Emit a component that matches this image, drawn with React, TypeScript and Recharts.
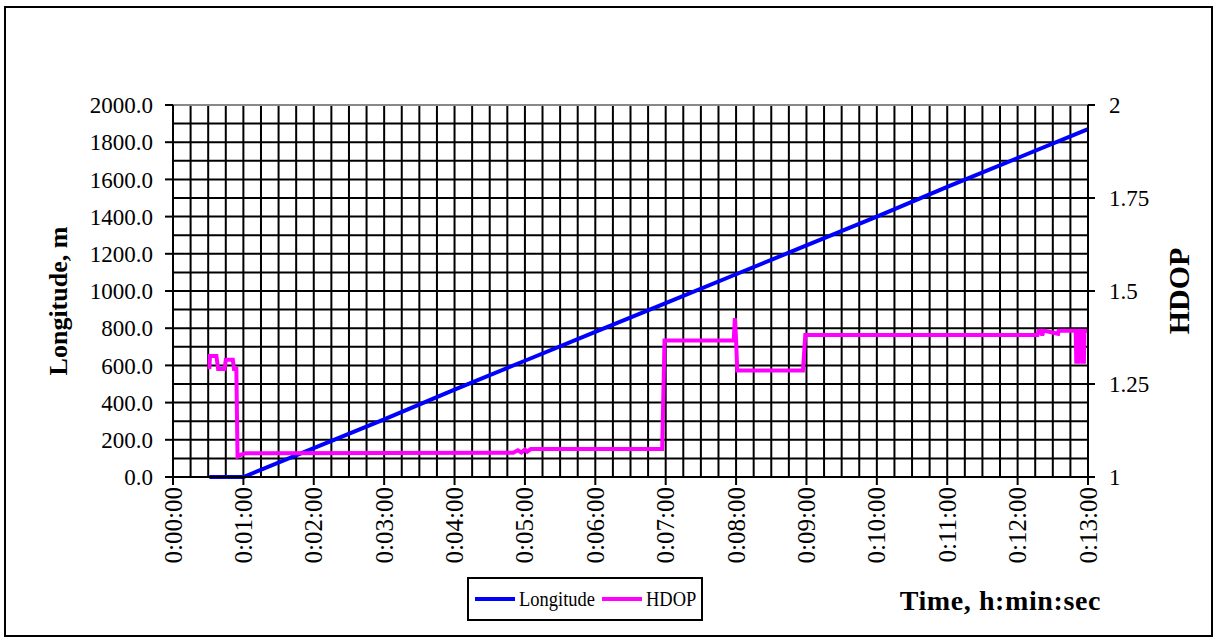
import { LineChart, Line, XAxis, YAxis, CartesianGrid, Legend, Label, ReferenceLine } from "recharts";

// time in seconds from start
const lonTime = [31, 60, 120, 180, 240, 300, 360, 420, 480, 540, 600, 660, 720, 780];
const lonValue = [0, 0, 155, 310, 470, 625, 780, 935, 1090, 1245, 1400, 1560, 1715, 1870];

const hdopTime = [
  31, 31.5, 37, 38.5, 44, 45, 51, 52, 54, 55, 58, 62,
  290, 294, 297, 300, 302, 305,
  417, 419, 478, 479, 480, 481,
  537, 539, 737, 738, 740, 741, 742, 743, 754.5, 755, 756,
  769.5, 770, 771.5, 772, 774.5, 775, 776.5, 777, 780,
];
const hdopValue = [
  1.29, 1.325, 1.325, 1.29, 1.29, 1.315, 1.315, 1.29, 1.29, 1.055, 1.06, 1.064,
  1.065, 1.072, 1.066, 1.074, 1.068, 1.075,
  1.075, 1.367, 1.367, 1.427, 1.367, 1.286,
  1.286, 1.382, 1.382, 1.393, 1.393, 1.38, 1.393, 1.393, 1.385, 1.393, 1.393,
  1.393, 1.31, 1.31, 1.393, 1.393, 1.31, 1.31, 1.393, 1.393,
];

const seriesNames = ["Longitude", "HDOP"];
const timeTicks = [0, 60, 120, 180, 240, 300, 360, 420, 480, 540, 600, 660, 720, 780];
const lonTicks = [0, 200, 400, 600, 800, 1000, 1200, 1400, 1600, 1800, 2000];
const hdopTicks = [1, 1.25, 1.5, 1.75, 2];

const timeDomain = [0, 780];
const lonDomain = [0, 2000];

// minor grid: every 15 s and every 100 m
const gridX = Array.from({ length: 53 }, (_, i) => i * 15);
const gridY = Array.from({ length: 20 }, (_, i) => i * 100);

const lonData = lonTime.map((t, i) => ({ t, lon: lonValue[i] }));
const hdopData = hdopTime.map((t, i) => ({ t, hdop: hdopValue[i] }));

const serif = "'Liberation Serif', 'Times New Roman', serif";

// legend label boxes (text is drawn a little condensed, like the original)
const legendTextWidth: Record<string, number> = { Longitude: 74, HDOP: 50 };

const fmtTime = (s: number) => {
  const m = Math.floor(s / 60);
  const sec = s % 60;
  return `0:${String(m).padStart(2, "0")}:${String(sec).padStart(2, "0")}`;
};

const gridXCoords = ({ xAxis, offset }: any) => {
  if (xAxis && typeof xAxis.scale === "function") return gridX.map((v) => xAxis.scale(v));
  return gridX.map((v) => offset.left + (offset.width * (v - timeDomain[0])) / (timeDomain[1] - timeDomain[0]));
};

const gridYCoords = ({ yAxis, offset }: any) => {
  if (yAxis && typeof yAxis.scale === "function") return gridY.map((v) => yAxis.scale(v));
  return gridY.map((v) => offset.top + offset.height * (1 - (v - lonDomain[0]) / (lonDomain[1] - lonDomain[0])));
};

const TimeTick = ({ x, y, payload }: any) => (
  <text
    x={x}
    y={y}
    transform={`rotate(-90 ${x} ${y})`}
    textAnchor="end"
    dominantBaseline="central"
    fontFamily={serif}
    fontSize={25}
    fill="#000"
  >
    {fmtTime(payload.value)}
  </text>
);

const LegendBox = ({ payload }: any) => {
  const items = [...(payload || [])].sort(
    (a: any, b: any) => seriesNames.indexOf(a.value) - seriesNames.indexOf(b.value)
  );
  return (
    <div
      style={{
        display: "flex",
        alignItems: "center",
        height: "100%",
        boxSizing: "border-box",
        border: "2px solid #000",
        padding: "0 6px",
        fontFamily: serif,
        fontSize: 22,
        background: "#fff",
      }}
    >
      {items.map((p: any) => (
        <div key={p.value} style={{ display: "flex", alignItems: "center", marginRight: 9 }}>
          <span style={{ display: "inline-block", width: 40, height: 4, background: p.color, marginRight: 4 }} />
          <span
            style={{
              display: "inline-block",
              width: legendTextWidth[p.value],
              whiteSpace: "nowrap",
              transform: "scaleX(0.84)",
              transformOrigin: "left center",
            }}
          >
            {p.value}
          </span>
        </div>
      ))}
    </div>
  );
};

export default function App() {
  return (
    <div style={{ position: "absolute", left: 0, top: 0, width: 1219, height: 641, background: "#fff" }}>
      <div
        style={{
          position: "absolute",
          left: 4,
          top: 6,
          width: 1209,
          height: 631,
          border: "2px solid #000",
          boxSizing: "border-box",
        }}
      />
      <div style={{ position: "absolute", left: 0, top: 0 }}>
        <LineChart width={1219} height={641} margin={{ top: 105, right: 41, bottom: 74, left: 23 }}>
          <CartesianGrid
            yAxisId="left"
            stroke="#000"
            strokeWidth={2}
            verticalCoordinatesGenerator={gridXCoords}
            horizontalCoordinatesGenerator={gridYCoords}
          />
          <ReferenceLine yAxisId="left" y={2000} stroke="#888" strokeWidth={2} />
          <XAxis
            type="number"
            dataKey="t"
            domain={timeDomain}
            ticks={timeTicks}
            height={90}
            tickSize={8}
            tickMargin={2}
            tick={<TimeTick />}
            axisLine={{ stroke: "#000", strokeWidth: 2 }}
            tickLine={{ stroke: "#000", strokeWidth: 2 }}
            interval={0}
          >
            <Label
              content={({ viewBox }: any) => (
                <text
                  x={viewBox.x + viewBox.width + 13}
                  y={viewBox.y + viewBox.height + 33}
                  textAnchor="end"
                  dominantBaseline="central"
                  fontFamily={serif}
                  fontWeight="bold"
                  fontSize={28}
                  letterSpacing={0.6}
                  fill="#000"
                >
                  Time, h:min:sec
                </text>
              )}
            />
          </XAxis>
          <YAxis
            yAxisId="left"
            orientation="left"
            domain={lonDomain}
            ticks={lonTicks}
            width={150}
            tickSize={8}
            tickMargin={12}
            interval={0}
            tickFormatter={(v: number) => v.toFixed(1)}
            tick={{ fontFamily: serif, fontSize: 23, fill: "#000" }}
            axisLine={{ stroke: "#000", strokeWidth: 2 }}
            tickLine={{ stroke: "#000", strokeWidth: 2 }}
          >
            <Label
              content={({ viewBox }: any) => {
                const cx = viewBox.x + 35;
                const cy = viewBox.y + viewBox.height / 2 + 10;
                return (
                  <text
                    x={cx}
                    y={cy}
                    transform={`rotate(-90 ${cx} ${cy})`}
                    textAnchor="middle"
                    dominantBaseline="central"
                    fontFamily={serif}
                    fontWeight="bold"
                    fontSize={26}
                    fill="#000"
                  >
                    Longitude, m
                  </text>
                );
              }}
            />
          </YAxis>
          <YAxis
            yAxisId="right"
            orientation="right"
            domain={[1, 2]}
            ticks={hdopTicks}
            width={90}
            tickSize={7}
            tickMargin={14}
            interval={0}
            tick={{ fontFamily: serif, fontSize: 23, fill: "#000" }}
            axisLine={{ stroke: "#000", strokeWidth: 2 }}
            tickLine={{ stroke: "#000", strokeWidth: 2 }}
          >
            <Label
              content={({ viewBox }: any) => {
                const cx = viewBox.x + 90;
                const cy = viewBox.y + viewBox.height / 2;
                return (
                  <text
                    x={cx}
                    y={cy}
                    transform={`rotate(-90 ${cx} ${cy})`}
                    textAnchor="middle"
                    dominantBaseline="central"
                    fontFamily={serif}
                    fontWeight="bold"
                    fontSize={30}
                    fill="#000"
                  >
                    HDOP
                  </text>
                );
              }}
            />
          </YAxis>
          <Line
            yAxisId="left"
            data={lonData}
            dataKey="lon"
            name="Longitude"
            type="linear"
            stroke="#0000FF"
            strokeWidth={4}
            dot={false}
            isAnimationActive={false}
          />
          <Line
            yAxisId="right"
            data={hdopData}
            dataKey="hdop"
            name="HDOP"
            type="linear"
            stroke="#FF00FF"
            strokeWidth={4}
            dot={false}
            isAnimationActive={false}
          />
          <Legend
            layout="horizontal"
            verticalAlign="middle"
            align="center"
            content={<LegendBox />}
            wrapperStyle={{ left: 467, top: 577, width: 236, height: 44 }}
          />
        </LineChart>
      </div>
    </div>
  );
}
